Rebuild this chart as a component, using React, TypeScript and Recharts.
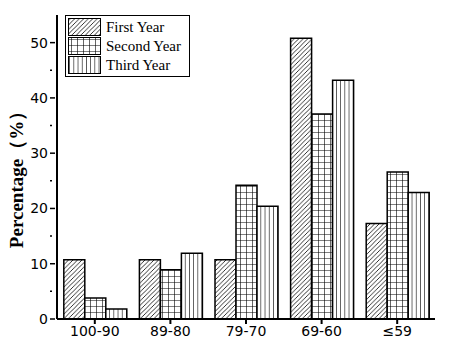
import React from 'react';
import { BarChart, Bar, XAxis, YAxis } from 'recharts';

const categories = ['100-90', '89-80', '79-70', '69-60', '≤59'];
const firstYear = [10.7, 10.7, 10.7, 50.8, 17.3];
const secondYear = [3.8, 8.9, 24.2, 37.1, 26.6];
const thirdYear = [1.8, 11.9, 20.4, 43.2, 22.9];
const yTicks = [0, 5, 10, 15, 20, 25, 30, 35, 40, 45, 50, 55];
const seriesNames = ['First Year', 'Second Year', 'Third Year'];
const patternIds = ['patDiag', 'patGrid', 'patVert'];

const data = categories.map((c, i) => ({
  name: c,
  first: firstYear[i],
  second: secondYear[i],
  third: thirdYear[i],
}));

const tickFont = '"DejaVu Sans", sans-serif';
const serif = '"Liberation Serif", "Times New Roman", serif';

const YTick = (props: any) => {
  const { x, y, payload } = props;
  const v = payload.value;
  const major = v % 10 === 0;
  if (v > 50) return null;
  return (
    <g>
      <line x1={x + 1} x2={x + (major ? 6 : 3)} y1={y} y2={y} stroke="#000" strokeWidth={1.5} />
      {major && (
        <text x={x - 1} y={y} dy={5} textAnchor="end" fontFamily={tickFont} fontSize={14} fill="#000">
          {v}
        </text>
      )}
    </g>
  );
};

const LegendBox = () => (
  <svg width={126} height={63} style={{ position: 'absolute', left: 65, top: 15 }}>
    <rect x={0.5} y={0.5} width={124} height={61} fill="#fff" stroke="#000" strokeWidth={1} />
    {seriesNames.map((n, i) => (
      <g key={n}>
        <rect x={3.5} y={3.5 + i * 19} width={32} height={17} fill={`url(#${patternIds[i]})`} stroke="#000" strokeWidth={1} />
        <text x={41} y={17 + i * 19} fontFamily={serif} fontSize={15} fill="#000">
          {n}
        </text>
      </g>
    ))}
  </svg>
);

export default function App() {
  return (
    <div style={{ position: 'absolute', left: 0, top: 0, width: 454, height: 356, background: '#fff' }}>
      <svg width={0} height={0} style={{ position: 'absolute' }}>
        <defs>
          <pattern id="patDiag" patternUnits="userSpaceOnUse" width={4.5} height={4.5}>
            <rect width={4.5} height={4.5} fill="#fff" />
            <path d="M0,4.5 L4.5,0 M-1,1 L1,-1 M3.5,5.5 L5.5,3.5" stroke="#000" strokeWidth={0.8} />
          </pattern>
          <pattern id="patGrid" patternUnits="userSpaceOnUse" width={6} height={6}>
            <rect width={6} height={6} fill="#fff" />
            <path d="M0,0 L6,0 M0,0 L0,6" stroke="#000" strokeWidth={1.2} />
          </pattern>
          <pattern id="patVert" patternUnits="userSpaceOnUse" width={4.2} height={4}>
            <rect width={4.2} height={4} fill="#fff" />
            <path d="M0,0 L0,4" stroke="#000" strokeWidth={1.2} />
          </pattern>
        </defs>
      </svg>
      <BarChart
        width={454}
        height={356}
        data={data}
        margin={{ top: 15, right: 19, left: 0, bottom: 0 }}
        barCategoryGap="9%"
        barGap={0}
      >
        <XAxis
          dataKey="name"
          height={37}
          axisLine={{ stroke: '#000', strokeWidth: 2 }}
          tickLine={{ stroke: '#000', strokeWidth: 2 }}
          tickSize={5}
          tick={{ fill: '#000', fontFamily: tickFont, fontSize: 14 }}
          interval={0}
        />
        <YAxis
          width={57}
          domain={[0, 55]}
          ticks={yTicks}
          interval={0}
          axisLine={{ stroke: '#000', strokeWidth: 2 }}
          tickLine={false}
          tick={<YTick />}
          label={{
            value: 'Percentage（%）',
            angle: -90,
            position: 'insideLeft',
            offset: 0,
            style: { fontFamily: serif, fontWeight: 'bold', fontSize: 19, fill: '#000', textAnchor: 'middle' },
            dx: 16,
            dy: 8,
          }}
        />
        <Bar dataKey="first" name="First Year" fill="url(#patDiag)" stroke="#000" strokeWidth={1.5} isAnimationActive={false} />
        <Bar dataKey="second" name="Second Year" fill="url(#patGrid)" stroke="#000" strokeWidth={1.5} isAnimationActive={false} />
        <Bar dataKey="third" name="Third Year" fill="url(#patVert)" stroke="#000" strokeWidth={1.5} isAnimationActive={false} />
      </BarChart>
      <LegendBox />
    </div>
  );
}
